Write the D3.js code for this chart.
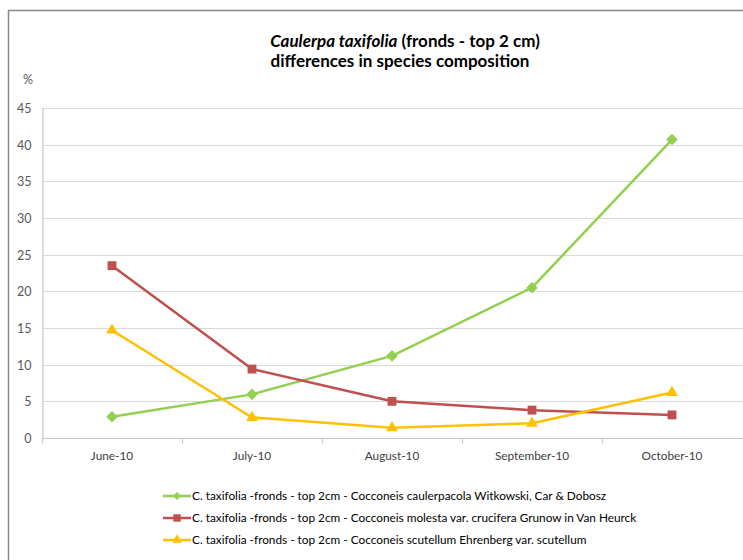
<!DOCTYPE html>
<html>
<head>
<meta charset="utf-8">
<script src="https://cdn.jsdelivr.net/npm/d3@7"></script>
<style>
  body { margin: 0; background: #fff; }
  text { font-family: Lato, "Open Sans", sans-serif; }
</style>
</head>
<body>
<svg id="chart" width="743" height="560"></svg>
<script>
// chart data
const months = ['June-10', 'July-10', 'August-10', 'September-10', 'October-10']
const yTicks = [0, 5, 10, 15, 20, 25, 30, 35, 40, 45]
const seriesNames = [
  'C. taxifolia -fronds - top 2cm - Cocconeis caulerpacola Witkowski, Car & Dobosz',
  'C. taxifolia -fronds - top 2cm - Cocconeis molesta var. crucifera Grunow in Van Heurck',
  'C. taxifolia -fronds - top 2cm - Cocconeis scutellum Ehrenberg var. scutellum',
]
const caulerpacola = [2.9, 5.95, 11.2, 20.5, 40.7]
const molesta = [23.5, 9.4, 5.0, 3.8, 3.15]
const scutellum = [14.7, 2.8, 1.4, 2.0, 6.2]

const colors = ['#92d050', '#c0504d', '#ffc000']
const symbols = [d3.symbolDiamond2, d3.symbolSquare2, d3.symbolTriangle2]
const series = [caulerpacola, molesta, scutellum].map((values, i) => ({
  name: seriesNames[i], values, color: colors[i], symbol: symbols[i],
}))

const svg = d3.select('#chart')
const margins = {top: 108, left: 42, right: 743, bottom: 438}

// outer chart border
svg.append('rect')
  .attr('x', 8.5).attr('y', 10.5)
  .attr('width', 800).attr('height', 600)
  .attr('fill', 'none').attr('stroke', '#868686').attr('stroke-width', 1.5)

const x = d3.scaleBand().domain(months).range([margins.left, margins.right - 1])
const y = d3.scaleLinear().domain([0, 45]).range([margins.bottom, margins.top])

// title
const title = svg.append('text')
  .attr('text-anchor', 'middle')
  .attr('font-size', 17).attr('font-weight', 'bold').attr('fill', '#000')
title.append('tspan').attr('x', 405).attr('y', 47)
  .attr('font-style', 'italic').text('Caulerpa taxifolia')
title.append('tspan').text(' (fronds - top 2 cm)')
svg.append('text')
  .attr('x', 400).attr('y', 67)
  .attr('text-anchor', 'middle')
  .attr('font-size', 17).attr('font-weight', 'bold')
  .text('differences in species composition')

// gridlines
svg.append('g')
  .selectAll('line')
  .data(yTicks.filter((d) => d > 0))
  .join('line')
  .attr('x1', margins.left).attr('x2', margins.right)
  .attr('y1', (d) => Math.round(y(d)) + 0.5).attr('y2', (d) => Math.round(y(d)) + 0.5)
  .attr('stroke', '#d9d9d9').attr('stroke-width', 1.2)

// y axis
const yAxis = svg.append('g')
  .attr('transform', `translate(${margins.left + 0.5}, 0.5)`)
  .call(d3.axisLeft(y).tickValues(yTicks).tickSize(0).tickPadding(11))
yAxis.select('.domain').attr('stroke', '#c8c8c8').attr('stroke-width', 1.2)
yAxis.selectAll('text')
  .attr('font-size', 12.5).attr('fill', '#595959')
  .attr('font-family', 'Lato, "Open Sans", sans-serif')

svg.append('text')
  .attr('x', 28).attr('y', 84)
  .attr('text-anchor', 'middle')
  .attr('font-size', 12.5).attr('fill', '#595959')
  .text('%')

// x axis
const xAxis = svg.append('g')
  .attr('transform', `translate(0, ${margins.bottom + 0.5})`)
xAxis.append('line')
  .attr('x1', margins.left).attr('x2', margins.right)
  .attr('stroke', '#c8c8c8').attr('stroke-width', 1.2)
xAxis.selectAll('.tick-mark')
  .data(months)
  .join('line')
  .attr('class', 'tick-mark')
  .attr('x1', (d) => x(d) + 0.5).attr('x2', (d) => x(d) + 0.5)
  .attr('y1', 0).attr('y2', 5)
  .attr('stroke', '#c8c8c8').attr('stroke-width', 1.2)
xAxis.selectAll('.tick-label')
  .data(months)
  .join('text')
  .attr('class', 'tick-label')
  .attr('x', (d) => x(d) + x.bandwidth() / 2)
  .attr('y', 21)
  .attr('text-anchor', 'middle')
  .attr('font-size', 11.8).attr('fill', '#404040')
  .text((d) => d)

// lines and markers
const line = d3.line()
  .x((d, i) => x(months[i]) + x.bandwidth() / 2)
  .y((d) => y(d))

const groups = svg.append('g')
  .selectAll('g')
  .data(series)
  .join('g')

groups.append('path')
  .attr('d', (d) => line(d.values))
  .attr('fill', 'none')
  .attr('stroke', (d) => d.color)
  .attr('stroke-width', 2.5)
  .attr('stroke-linejoin', 'round')

groups.each(function (s) {
  d3.select(this).selectAll('path.marker')
    .data(s.values)
    .join('path')
    .attr('class', 'marker')
    .attr('transform', (d, i) => `translate(${x(months[i]) + x.bandwidth() / 2}, ${y(d)})`)
    .attr('d', d3.symbol(s.symbol, s.symbol === d3.symbolDiamond2 ? 85 : 100))
    .attr('fill', s.color)
})

// legend
const legend = svg.append('g')
  .selectAll('g')
  .data(series)
  .join('g')
  .attr('transform', (d, i) => `translate(163, ${496 + i * 22})`)

legend.append('line')
  .attr('x1', 0).attr('x2', 28)
  .attr('stroke', (d) => d.color).attr('stroke-width', 2.5)
legend.append('path')
  .attr('transform', 'translate(14, 0)')
  .attr('d', (d) => d3.symbol(d.symbol, d.symbol === d3.symbolDiamond2 ? 40 : 70)())
  .attr('fill', (d) => d.color)
legend.append('text')
  .attr('x', 29).attr('dy', '0.35em')
  .attr('font-size', 11.8).attr('fill', '#000')
  .text((d) => d.name)
</script>
</body>
</html>
